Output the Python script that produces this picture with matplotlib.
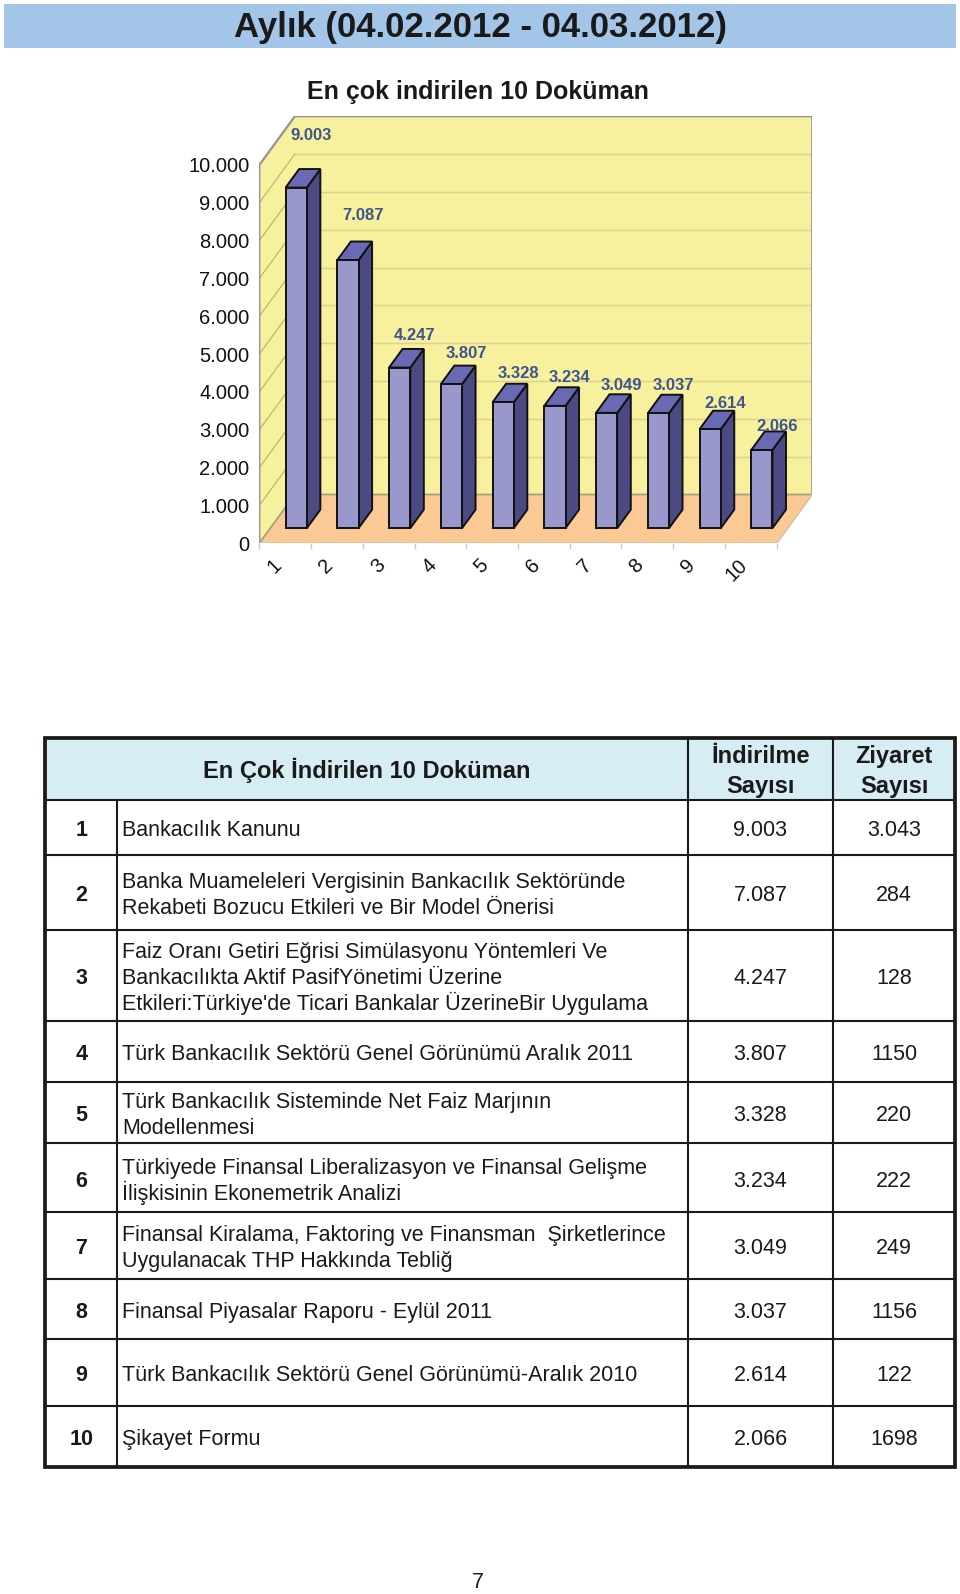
import matplotlib
matplotlib.use('Agg')
import matplotlib.pyplot as plt
from matplotlib.patches import Polygon, Rectangle
from matplotlib import font_manager

# ---------------- data ----------------
title = 'Aylık (04.02.2012 - 04.03.2012)'
chart_title = 'En çok indirilen 10 Doküman'
categories = ['1', '2', '3', '4', '5', '6', '7', '8', '9', '10']
downloads = [9003, 7087, 4247, 3807, 3328, 3234, 3049, 3037, 2614, 2066]
y_ticks = [0, 1000, 2000, 3000, 4000, 5000, 6000, 7000, 8000, 9000, 10000]
y_tick_labels = ['0', '1.000', '2.000', '3.000', '4.000', '5.000',
                 '6.000', '7.000', '8.000', '9.000', '10.000']

header_doc = 'En Çok İndirilen 10 Doküman'
header_dl = ['İndirilme', 'Sayısı']
header_vis = ['Ziyaret', 'Sayısı']
row_numbers = ['1', '2', '3', '4', '5', '6', '7', '8', '9', '10']
documents = [
    ['Bankacılık Kanunu'],
    ['Banka Muameleleri Vergisinin Bankacılık Sektöründe',
     'Rekabeti Bozucu Etkileri ve Bir Model Önerisi'],
    ['Faiz Oranı Getiri Eğrisi Simülasyonu Yöntemleri Ve',
     'Bankacılıkta Aktif PasifYönetimi Üzerine',
     'Etkileri:Türkiye\'de Ticari Bankalar ÜzerineBir Uygulama'],
    ['Türk Bankacılık Sektörü Genel Görünümü Aralık 2011'],
    ['Türk Bankacılık Sisteminde Net Faiz Marjının', 'Modellenmesi'],
    ['Türkiyede Finansal Liberalizasyon ve Finansal Gelişme',
     'İlişkisinin Ekonemetrik Analizi'],
    ['Finansal Kiralama, Faktoring ve Finansman  Şirketlerince',
     'Uygulanacak THP Hakkında Tebliğ'],
    ['Finansal Piyasalar Raporu - Eylül 2011'],
    ['Türk Bankacılık Sektörü Genel Görünümü-Aralık 2010'],
    ['Şikayet Formu'],
]
visit_labels = ['3.043', '284', '128', '1150', '220', '222', '249', '1156', '122', '1698']
page_number = '7'


def fmt(v):
    return f'{v:,}'.replace(',', '.')


# ---------------- fonts ----------------
names = {f.name for f in font_manager.fontManager.ttflist}
BASE = ['Liberation Sans', 'DejaVu Sans']
plt.rcParams['font.family'] = BASE
if 'Liberation Sans Narrow' in names:
    TITLE_FAM = ['Liberation Sans Narrow', 'Liberation Sans', 'DejaVu Sans']
    title_fs, sub_fs = 30, 21.5
else:
    TITLE_FAM = BASE
    title_fs, sub_fs = 25, 18

W, H = 960, 1594
fig = plt.figure(figsize=(W / 100, H / 100), dpi=100)
fig.patch.set_facecolor('white')

# full-page axes in pixel coordinates (title band, table, page number)
pg = fig.add_axes([0, 0, 1, 1], zorder=0)
pg.set_xlim(0, W)
pg.set_ylim(H, 0)
pg.axis('off')

# title band
pg.add_patch(Rectangle((4, 4), 952, 44, facecolor='#A2C5E8', edgecolor='none'))
pg.text(480, 27, title, ha='center', va='center', fontsize=title_fs,
        fontweight='bold', family=TITLE_FAM, color='#1A1A1A')
pg.text(478, 92, chart_title, ha='center', va='center', fontsize=sub_fs,
        fontweight='bold', family=TITLE_FAM, color='#1A1A1A')

# ---------------- 3D-looking bar chart ----------------
n = len(downloads)
DX, DY = 0.688, 1290          # depth offset (category units, value units)
px_left, px_bottom = 259.3, 543.3
cat_px, val_px = 51.74, 0.03783
ax_w = (n + DX) * cat_px
ax_h = (10000 + DY) * val_px
ax = fig.add_axes([px_left / W, (H - px_bottom) / H, ax_w / W, ax_h / H], zorder=2)
ax.set_xlim(0, n + DX)
ax.set_ylim(0, 10000 + DY)
ax.patch.set_visible(False)
for s in ax.spines.values():
    s.set_visible(False)

ymax = y_ticks[-1]
wall_col = '#F7F09C'
floor_col = '#FBC994'
edge_gray = '#959595'

# floor
ax.add_patch(Polygon([(0, 0), (n, 0), (n + DX, DY), (DX, DY)], closed=True,
                     facecolor=floor_col, edgecolor='none', zorder=1))
# side wall
ax.add_patch(Polygon([(0, 0), (DX, DY), (DX, ymax + DY), (0, ymax)], closed=True,
                     facecolor=wall_col, edgecolor='none', zorder=1))
# back wall
ax.add_patch(Polygon([(DX, DY), (n + DX, DY), (n + DX, ymax + DY), (DX, ymax + DY)],
                     closed=True, facecolor=wall_col, edgecolor='none', zorder=1))

# gridlines
for v in y_ticks[1:-1]:
    ax.plot([DX, n + DX], [v + DY, v + DY], color='#DCD18E', lw=1.0, zorder=2)
for v in y_ticks[1:]:
    ax.plot([0, DX], [v, v + DY], color='#B9AF6C', lw=0.8, zorder=2)

# wall edges
ax.plot([0, 0, DX, n + DX, n + DX], [0, ymax, ymax + DY, ymax + DY, DY],
        color=edge_gray, lw=1.6, zorder=3, solid_joinstyle='miter')
ax.plot([0, DX, n + DX], [0, DY, DY], color='#A8A084', lw=1.3, zorder=3)
ax.plot([0, n, n + DX], [0, 0, DY], color='#D8C3A8', lw=1.3, zorder=3)

# bars
bw = 0.41        # bar width (category units)
d0 = 0.31        # front depth fraction
bd = 0.38        # bar depth fraction
front_col, top_col, side_col = '#9898CC', '#6A6AB4', '#4B4A82'
for i, v in enumerate(downloads):
    x0 = i + 0.5 - bw / 2 + d0 * DX
    y0 = d0 * DY
    ddx, ddy = bd * DX, bd * DY
    ax.add_patch(Polygon([(x0 + bw, y0), (x0 + bw + ddx, y0 + ddy),
                          (x0 + bw + ddx, y0 + v + ddy), (x0 + bw, y0 + v)],
                         closed=True, facecolor=side_col, edgecolor='#111111',
                         lw=1.4, zorder=5, joinstyle='miter'))
    ax.add_patch(Polygon([(x0, y0 + v), (x0 + bw, y0 + v),
                          (x0 + bw + ddx, y0 + v + ddy), (x0 + ddx, y0 + v + ddy)],
                         closed=True, facecolor=top_col, edgecolor='#111111',
                         lw=1.4, zorder=5, joinstyle='miter'))
    ax.add_patch(Rectangle((x0, y0), bw, v, facecolor=front_col,
                           edgecolor='#111111', lw=1.4, zorder=6, joinstyle='miter'))
    # data label
    ax.text(x0 + bw / 2 + 0.29, v * 1.11 + 790, fmt(v), ha='center', va='center',
            fontsize=12, fontweight='bold', color='#3F5590', zorder=8,
            clip_on=False)

# axes ticks
ax.set_yticks(y_ticks)
ax.set_yticklabels(y_tick_labels)
ax.tick_params(axis='y', length=0, pad=7.2, labelsize=14.5, labelcolor='#111111')
ax.set_xticks([i + 0.5 for i in range(n)])
ax.set_xticklabels(categories, rotation=45, ha='right')
ax.tick_params(axis='x', which='major', length=0, pad=9, labelsize=14.5,
               labelcolor='#111111')
ax.set_xticks(list(range(n + 1)), minor=True)
ax.tick_params(axis='x', which='minor', length=4, width=1, color='#C8C8C8',
               direction='out')

# ---------------- table ----------------
t_left, t_right = 45, 955
col_x = [45, 117.3, 687.7, 833.3, 955]
row_y = [737.5, 800, 855, 930, 1020.7, 1081.7, 1143.3, 1212.3, 1279, 1339.3, 1406, 1467]

pg.add_patch(Rectangle((t_left, row_y[0]), t_right - t_left, row_y[1] - row_y[0],
                       facecolor='#D6EDF4', edgecolor='none', zorder=1))
inner_lw = 1.5
for y in row_y[1:-1]:
    pg.plot([t_left, t_right], [y, y], color='#1A1A1A', lw=inner_lw, zorder=3)
pg.plot([col_x[1], col_x[1]], [row_y[1], row_y[-1]], color='#1A1A1A', lw=inner_lw, zorder=3)
for cx in col_x[2:4]:
    pg.plot([cx, cx], [row_y[0], row_y[-1]], color='#1A1A1A', lw=inner_lw, zorder=3)
pg.add_patch(Rectangle((t_left, row_y[0]), t_right - t_left, row_y[-1] - row_y[0],
                       facecolor='none', edgecolor='#1A1A1A', lw=2.7, zorder=4,
                       joinstyle='miter'))

BODY_FS = 15.5
HDR_FS = 17


def put_lines(x, yc, lines, fs, step, ha='left', weight='normal'):
    """Place each line on its own baseline so accents do not change spacing."""
    cap = 0.716 * fs * 100 / 72
    m = len(lines)
    for k, line in enumerate(lines):
        yl = yc + (k - (m - 1) / 2) * step + cap / 2
        pg.text(x, yl, line, ha=ha, va='baseline', fontsize=fs,
                fontweight=weight, color='#1A1A1A', zorder=5)


hdr_y = (row_y[0] + row_y[1]) / 2
put_lines((col_x[0] + col_x[2]) / 2, hdr_y + 1, [header_doc], HDR_FS, 30,
          ha='center', weight='bold')
put_lines((col_x[2] + col_x[3]) / 2, hdr_y + 1, header_dl, HDR_FS, 30,
          ha='center', weight='bold')
put_lines((col_x[3] + col_x[4]) / 2, hdr_y + 1, header_vis, HDR_FS, 30,
          ha='center', weight='bold')

for i in range(len(row_numbers)):
    yc = (row_y[i + 1] + row_y[i + 2]) / 2 + 1
    put_lines((col_x[0] + col_x[1]) / 2, yc, [row_numbers[i]], 15.5, 26,
              ha='center', weight='bold')
    put_lines(col_x[1] + 4.5, yc, documents[i], BODY_FS, 26, ha='left')
    put_lines((col_x[2] + col_x[3]) / 2, yc, [fmt(downloads[i])], BODY_FS, 26,
              ha='center')
    put_lines((col_x[3] + col_x[4]) / 2, yc, [visit_labels[i]], BODY_FS, 26,
              ha='center')

pg.text(478, 1582, page_number, ha='center', va='center', fontsize=15.5, color='#1A1A1A')

fig.savefig('out.png', dpi=100)
